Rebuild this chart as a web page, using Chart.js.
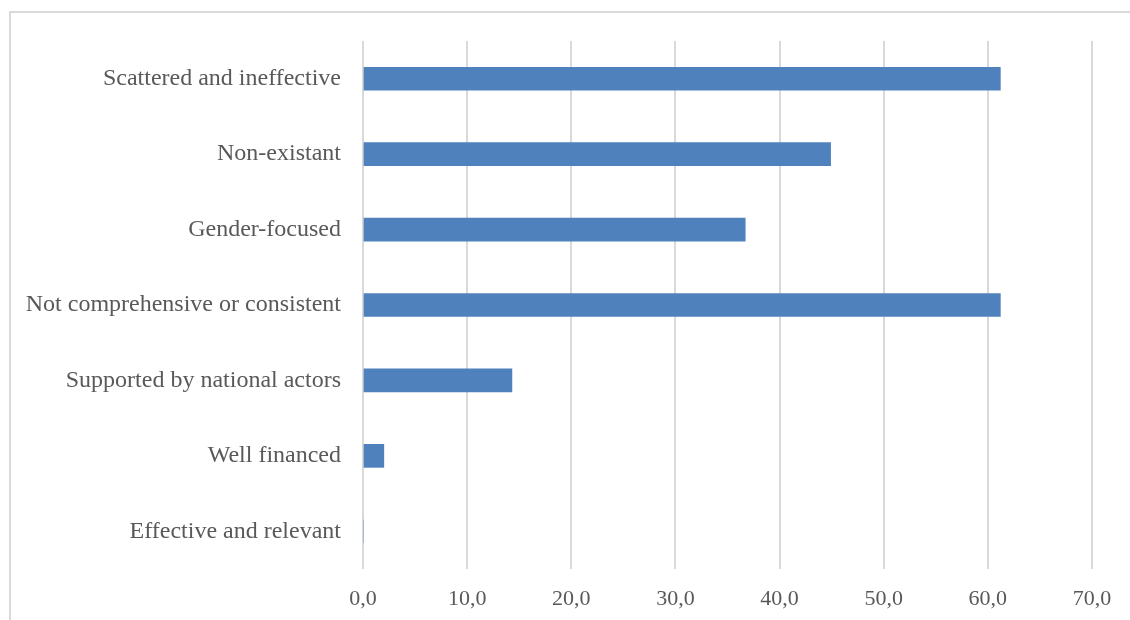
<!DOCTYPE html>
<html>
<head>
<meta charset="utf-8">
<script src="https://cdn.jsdelivr.net/npm/chart.js@4"></script>
<style>
  html, body { margin: 0; padding: 0; background: #fff; overflow: hidden; }
  .wrap { position: relative; width: 1130px; height: 620px; }
  .frame { position: absolute; left: 9px; top: 11px; width: 1200px; height: 700px; border: 2px solid #d9d9d9; box-sizing: border-box; }
  canvas { position: absolute; left: 0; top: 0; }
</style>
</head>
<body>
<div class="wrap">
  <div class="frame"></div>
  <canvas id="chart" width="1130" height="620"></canvas>
</div>
<script>
const categories = [
  'Scattered and ineffective',
  'Non-existant',
  'Gender-focused',
  'Not comprehensive or consistent',
  'Supported by national actors',
  'Well financed',
  'Effective and relevant'
];
const shares = [61.2, 44.9, 36.7, 61.2, 14.3, 2.0, 0];
const xTicks = [0, 10, 20, 30, 40, 50, 60, 70];

const serif = '"Liberation Serif", "Times New Roman", serif';

new Chart(document.getElementById('chart'), {
  type: 'bar',
  data: {
    labels: categories,
    datasets: [{
      data: shares,
      backgroundColor: '#4f81bd',
      barThickness: 23
    }]
  },
  options: {
    indexAxis: 'y',
    responsive: false,
    animation: false,
    layout: { padding: { top: 41, right: 38, bottom: 0, left: 0 } },
    plugins: { legend: { display: false }, tooltip: { enabled: false } },
    scales: {
      x: {
        min: 0,
        max: 70,
        afterBuildTicks: axis => { axis.ticks = xTicks.map(v => ({ value: v })); },
        afterFit: axis => { axis.height = 51; },
        grid: { color: '#d9d9d9', lineWidth: 2, drawTicks: false },
        border: { display: false },
        ticks: {
          font: { family: serif, size: 22 },
          color: '#595959',
          padding: 17,
          callback: v => v.toFixed(1).replace('.', ',')
        }
      },
      y: {
        afterFit: axis => { axis.width = 363; },
        grid: { display: false },
        border: { display: false },
        ticks: { font: { family: serif, size: 24 }, color: '#595959', padding: 14 }
      }
    }
  }
});
</script>
</body>
</html>
